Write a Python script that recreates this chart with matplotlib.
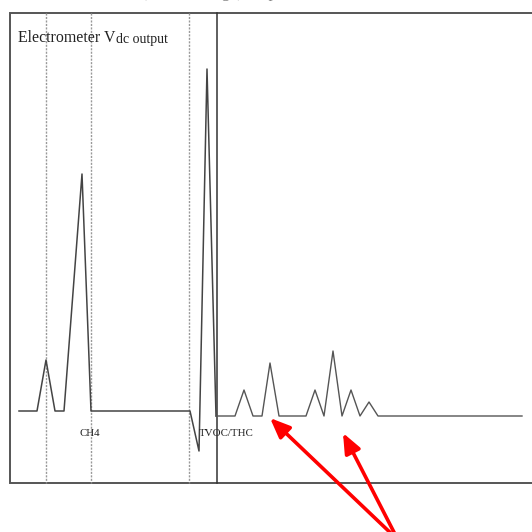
"""Electrometer Vdc output sketch: CH4 and TVOC/THC peaks."""

import matplotlib.pyplot as plt

# Trace before the column switch (baseline ~411)
trace_a_x = [19, 37, 46, 55, 64, 82, 91, 190, 199, 207, 216]
trace_a_y = [411, 411, 360, 411, 411, 174, 411, 411, 451, 69, 416]

# Trace after the switch (baseline ~416)
trace_b_x = [216, 235, 244, 253, 262, 270, 279, 306, 315, 324, 333,
             342, 351, 360, 369, 378, 522]
trace_b_y = [416, 416, 390, 416, 416, 363, 416, 416, 390, 416, 351,
             416, 390, 416, 402, 416, 416]

dotted_x = [46, 91, 189]
switch_x = 216.5

frame_left, frame_top, frame_bottom = 10, 12.5, 483

arrow_tail = (398, 540)
arrow_tips = [(270, 418), (343, 433)]

labels = [("CH4", 79, 433), ("TVOC/THC", 199, 433)]


def main() -> None:
    fig = plt.figure(figsize=(5.32, 5.32), dpi=100)
    ax = fig.add_axes([0, 0, 1, 1])
    ax.set_xlim(0, 532)
    ax.set_ylim(532, 0)
    ax.axis("off")

    serif = "Liberation Serif"
    frame_c = "#555555"

    # frame (open on the right)
    ax.plot([540, frame_left, frame_left, 540],
            [frame_top, frame_top, frame_bottom, frame_bottom],
            color=frame_c, lw=1.4, solid_joinstyle="miter")
    ax.plot([switch_x, switch_x], [frame_top, frame_bottom], color="#333333", lw=1.1)
    for x in dotted_x:
        ax.plot([x, x], [frame_top, frame_bottom], color="#999999", lw=1.0,
                linestyle=(0, (1.5, 1.0)))

    ax.plot(trace_a_x, trace_a_y, color="#444444", lw=1.1)
    ax.plot(trace_b_x, trace_b_y, color="#555555", lw=1.0)

    # heading, partly cut off at the top (as in the source page)
    ax.text(-4, 1, "ter with Electrometer (0~10 V range) output will be:",
            fontfamily=serif, fontsize=12, color="#888888", va="bottom", ha="left")

    main_txt = ax.text(18, 42, "Electrometer V", fontfamily=serif, fontsize=11.4,
                       color="#222222", va="baseline", ha="left")
    ax.annotate("dc output", xy=(1, 0), xycoords=main_txt,
                xytext=(0, 0), textcoords="offset points",
                fontfamily=serif, fontsize=10, color="#222222",
                va="bottom", ha="left")

    for text, x, y in labels:
        ax.text(x, y, text, fontfamily=serif, fontsize=7.8, color="#222222",
                va="center", ha="left")

    for tip in arrow_tips:
        ax.annotate("", xy=tip, xytext=arrow_tail,
                    arrowprops=dict(arrowstyle="-|>,head_length=1.2,head_width=0.5",
                                    color="#ff0000", lw=2.6,
                                    shrinkA=0, shrinkB=0))

    fig.savefig("out.png", dpi=100)
    plt.close(fig)


if __name__ == "__main__":
    main()
